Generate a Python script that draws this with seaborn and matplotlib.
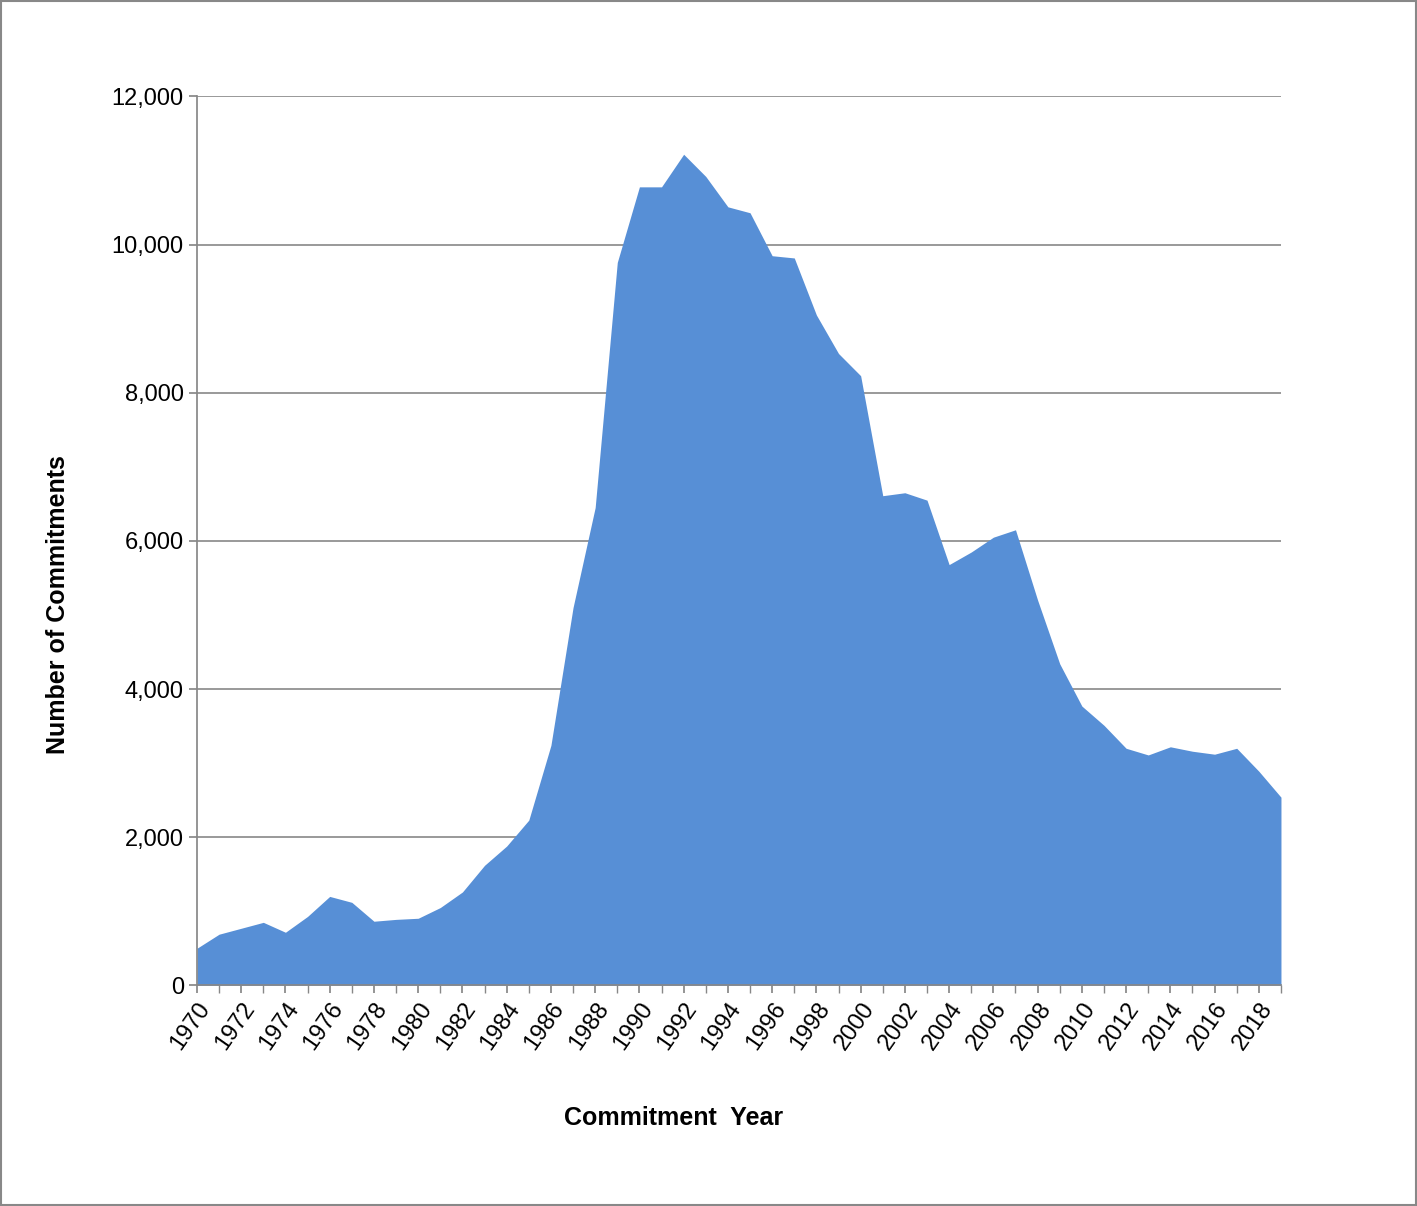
import matplotlib
matplotlib.use("Agg")
import matplotlib.pyplot as plt
import numpy as np
import pandas as pd
import seaborn as sns
from matplotlib.ticker import FuncFormatter

years = list(range(1970, 2020))
commitments = [500, 690, 770, 850, 716, 930, 1200, 1120, 865, 890,
               905, 1050, 1260, 1620, 1880, 2230, 3240, 5100, 6450, 9760,
               10780, 10780, 11220, 10920, 10510, 10430, 9850, 9820, 9050, 8530,
               8230, 6610, 6650, 6550, 5680, 5850, 6050, 6150, 5200, 4340,
               3770, 3510, 3200, 3110, 3220, 3160, 3120, 3200, 2890, 2540]

df = pd.DataFrame({"year": years, "count": commitments})

sns.set_theme(style="white")
plt.rcParams["font.family"] = ["Liberation Sans", "DejaVu Sans"]
plt.rcParams["text.color"] = "black"
plt.rcParams["axes.labelcolor"] = "black"
plt.rcParams["xtick.color"] = "black"
plt.rcParams["ytick.color"] = "black"

fig = plt.figure(figsize=(14.17, 12.06), dpi=100)
ax = fig.add_axes([0.139, 0.183, 0.765, 0.737])

sns.lineplot(data=df, x="year", y="count", ax=ax, color="#578FD6", linewidth=0)
ax.fill_between(df["year"], df["count"], color="#578FD6", linewidth=0, zorder=2)

ax.set_xlim(1970, 2019)
ax.set_ylim(0, 12000)
ax.set_yticks(np.arange(0, 12001, 2000))
ax.yaxis.set_major_formatter(FuncFormatter(lambda v, p: f"{int(v):,}"))
ax.set_xticks(years[::2])
ax.set_xticklabels([str(y) for y in years[::2]], rotation=55, ha="right",
                   rotation_mode="anchor", fontsize=17)
ax.tick_params(axis="y", labelsize=17, length=6, color="#888888", direction="out", left=True)
ax.tick_params(axis="x", length=6, color="#888888", direction="out", bottom=True)
ax.set_xticks(years, minor=True)
ax.tick_params(axis="x", which="minor", length=6, color="#888888", bottom=True)

ax.grid(axis="y", color="#888888", linewidth=1.2, zorder=0)
ax.set_axisbelow(True)
for s in ["top", "right"]:
    ax.spines[s].set_visible(False)
for s in ["left", "bottom"]:
    ax.spines[s].set_color("#888888")

ax.set_xlabel("Commitment  Year", fontsize=18, fontweight="bold")
ax.set_ylabel("Number of Commitments", fontsize=18, fontweight="bold")
ax.xaxis.set_label_coords(0.44, -0.136)
ax.yaxis.set_label_coords(-0.117, 0.428)

fig.patches.append(plt.Rectangle((0.001, 0.001), 0.998, 0.998, transform=fig.transFigure,
                                 fill=False, edgecolor="#888888", linewidth=1.5))

fig.savefig("out.png", dpi=100)
